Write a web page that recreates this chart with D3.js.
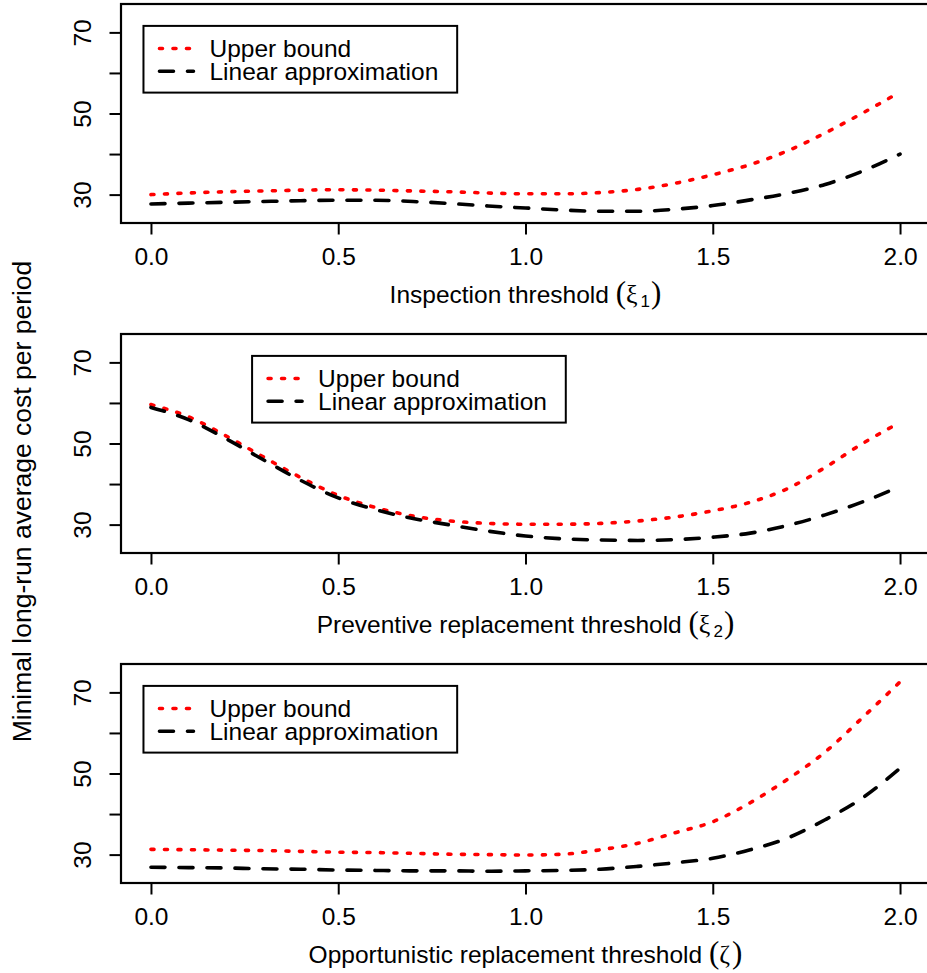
<!DOCTYPE html>
<html>
<head>
<meta charset="utf-8">
<script src="https://cdn.jsdelivr.net/npm/d3@7"></script>
<style>
  body { margin: 0; background: #fff; }
  text { font-family: "Liberation Sans", Arial, Helvetica, sans-serif; fill: #000; }
  .sym { font-family: "Liberation Serif", "DejaVu Serif", serif; }
</style>
</head>
<body>
<svg id="chart" width="927" height="973"></svg>
<script>
// Threshold grid shared by all three panels
const thresholds = [0, 0.1, 0.2, 0.3, 0.4, 0.5, 0.6, 0.7, 0.8, 0.9, 1.0,
                    1.1, 1.2, 1.3, 1.4, 1.5, 1.6, 1.7, 1.8, 1.9, 2.0];

// Inspection threshold (xi_1)
const inspectionUpper  = [30.0, 30.4, 30.7, 30.9, 31.1, 31.2, 31.1, 30.9, 30.7, 30.4, 30.2,
                          30.2, 30.5, 31.3, 32.8, 34.9, 37.4, 40.8, 45.2, 50.1, 55.3];
const inspectionLinear = [27.7, 27.9, 28.1, 28.3, 28.5, 28.6, 28.6, 28.3, 27.8, 27.2, 26.7,
                          26.2, 25.9, 25.9, 26.4, 27.3, 28.7, 30.3, 32.5, 35.8, 40.0];

// Preventive replacement threshold (xi_2)
const preventiveUpper  = [59.6, 56.6, 51.9, 46.7, 41.6, 37.2, 34.2, 32.1, 30.9, 30.3, 30.1,
                          30.1, 30.3, 30.9, 31.9, 33.4, 35.5, 38.9, 44.1, 50.0, 55.2];
const preventiveLinear = [58.9, 55.9, 51.2, 46.0, 40.9, 36.6, 33.7, 31.5, 29.9, 28.4, 27.2,
                          26.5, 26.2, 26.1, 26.3, 26.9, 27.9, 29.8, 32.4, 35.6, 39.4];

// Opportunistic replacement threshold (zeta)
const opportunisticUpper  = [31.3, 31.2, 31.1, 31.0, 30.8, 30.6, 30.5, 30.3, 30.1, 30.0, 29.9,
                             30.1, 31.2, 32.8, 35.4, 38.1, 42.8, 48.6, 55.3, 63.8, 72.6];
const opportunisticLinear = [26.9, 26.8, 26.7, 26.5, 26.4, 26.2, 26.1, 26.0, 26.0, 25.9, 26.0,
                             26.1, 26.4, 27.1, 28.0, 29.1, 31.2, 34.1, 38.6, 44.0, 51.3];

const seriesNames = ["Upper bound", "Linear approximation"];
const xTicks = [0, 0.5, 1.0, 1.5, 2.0];
const xTickLabels = ["0.0", "0.5", "1.0", "1.5", "2.0"];
const yTicks = [30, 40, 50, 60, 70];
const yTickLabels = ["30", "", "50", "", "70"];
const yTitle = "Minimal long-run average cost per period";

const panels = [
  { label: "Inspection threshold ", symbol: "\u03BE", sub: "1",
    upper: inspectionUpper, linear: inspectionLinear, legendX: -0.02 },
  { label: "Preventive replacement threshold ", symbol: "\u03BE", sub: "2",
    upper: preventiveUpper, linear: preventiveLinear, legendX: 0.27 },
  { label: "Opportunistic replacement threshold ", symbol: "\u03B6", sub: "",
    upper: opportunisticUpper, linear: opportunisticLinear, legendX: -0.02 }
];

// Layout
const xLim = [0, 2], yLim = [25, 75];
const pad = 0.04; // plot region extends 4% beyond the limits on each side
const xOuter = [xLim[0] - pad * (xLim[1] - xLim[0]), xLim[1] + pad * (xLim[1] - xLim[0])];
const yOuter = [yLim[0] - pad * (yLim[1] - yLim[0]), yLim[1] + pad * (yLim[1] - yLim[0])];
const plotLeft = 121, plotRight = 930;
const panelTop0 = 4, panelStep = 330, panelHeight = 219;
const legendTopValue = 71.6;

const styles = [
  { color: "#ff0000", dash: "3,10.5" },
  { color: "#000000", dash: "14,14" }
];
const lineWidth = 3.6;

const svg = d3.select("#chart");

const x = d3.scaleLinear().domain(xOuter).range([plotLeft, plotRight]);

panels.forEach((p, i) => {
  const top = panelTop0 + i * panelStep;
  const bottom = top + panelHeight;
  const y = d3.scaleLinear().domain(yOuter).range([bottom, top]);
  const g = svg.append("g");

  const clipId = "clip" + i;
  g.append("clipPath").attr("id", clipId)
    .append("rect").attr("x", plotLeft).attr("y", top)
    .attr("width", plotRight - plotLeft).attr("height", panelHeight);

  // curves
  const line = d3.line()
    .x(d => x(d[0])).y(d => y(d[1]))
    .curve(d3.curveMonotoneX);
  [p.upper, p.linear].forEach((vals, k) => {
    g.append("path")
      .attr("clip-path", `url(#${clipId})`)
      .attr("d", line(thresholds.map((t, j) => [t, vals[j]])))
      .attr("fill", "none")
      .attr("stroke", styles[k].color)
      .attr("stroke-width", lineWidth)
      .attr("stroke-dasharray", styles[k].dash)
      .attr("stroke-linecap", "round")
      .attr("stroke-linejoin", "round");
  });

  // frame
  g.append("rect")
    .attr("x", plotLeft).attr("y", top)
    .attr("width", plotRight - plotLeft).attr("height", panelHeight)
    .attr("fill", "none").attr("stroke", "#000").attr("stroke-width", 2.2);

  // x axis
  const xAxis = d3.axisBottom(x).tickValues(xTicks)
    .tickFormat((d, j) => xTickLabels[j]).tickSize(11.5).tickPadding(0);
  const xa = g.append("g").attr("transform", `translate(0,${bottom})`).call(xAxis);
  xa.select(".domain").remove();
  xa.selectAll(".tick line").attr("stroke", "#000").attr("stroke-width", 2);
  xa.selectAll(".tick text")
    .attr("y", 41.5).attr("dy", null)
    .style("font-family", '"Liberation Sans", Arial, sans-serif')
    .style("font-size", "24.5px").attr("fill", "#000");

  // y axis (labels parallel to the axis)
  const yAxis = d3.axisLeft(y).tickValues(yTicks)
    .tickFormat((d, j) => yTickLabels[j]).tickSize(11.5);
  const ya = g.append("g").attr("transform", `translate(${plotLeft},0)`).call(yAxis);
  ya.select(".domain").remove();
  ya.selectAll(".tick line").attr("stroke", "#000").attr("stroke-width", 2);
  ya.selectAll(".tick text")
    .attr("x", null).attr("dy", null)
    .attr("text-anchor", "middle")
    .attr("transform", `translate(${90.7 - plotLeft},0) rotate(-90)`)
    .style("font-family", '"Liberation Sans", Arial, sans-serif')
    .style("font-size", "24.5px").attr("fill", "#000");

  // x axis title with Greek symbol
  const title = g.append("text")
    .attr("x", (plotLeft + plotRight) / 2)
    .attr("y", bottom + 79.7)
    .attr("text-anchor", "middle")
    .style("font-size", "24.5px");
  title.append("tspan").text(p.label);
  title.append("tspan").attr("class", "sym").style("font-size", "31px").text("(");
  title.append("tspan").attr("class", "sym").style("font-size", "26px").text(p.symbol);
  if (p.sub) {
    title.append("tspan").style("font-size", "17px").attr("dy", 4).attr("dx", 3).text(p.sub);
    title.append("tspan").attr("class", "sym").style("font-size", "31px").attr("dy", -4).attr("dx", 1).text(")");
  } else {
    title.append("tspan").attr("class", "sym").style("font-size", "31px").attr("dx", 2).text(")");
  }

  // legend
  const lx = x(p.legendX);
  const ly = y(legendTopValue);
  const lg = g.append("g").attr("transform", `translate(${lx},${ly})`);
  lg.append("rect")
    .attr("x", 0).attr("y", 0).attr("width", 313.7).attr("height", 66.7)
    .attr("fill", "#fff").attr("stroke", "#000").attr("stroke-width", 2);
  seriesNames.forEach((name, k) => {
    const ry = 22.6 + k * 22.8;
    lg.append("line")
      .attr("x1", 16).attr("x2", 50).attr("y1", ry).attr("y2", ry)
      .attr("stroke", styles[k].color).attr("stroke-width", lineWidth)
      .attr("stroke-dasharray", styles[k].dash).attr("stroke-linecap", "round");
    lg.append("text")
      .attr("x", 66).attr("y", ry).attr("dy", "0.36em")
      .style("font-size", "24.5px").text(name);
  });
});

// shared y axis title
svg.append("text")
  .attr("transform", "translate(30.7,501.5) rotate(-90)")
  .attr("text-anchor", "middle")
  .style("font-size", "26.5px")
  .text(yTitle);
</script>
</body>
</html>
